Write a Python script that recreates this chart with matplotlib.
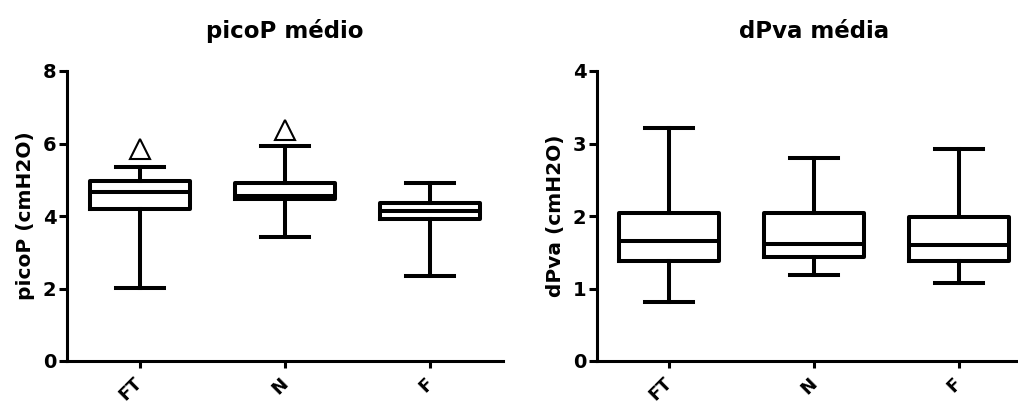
import matplotlib
matplotlib.use("Agg")
import matplotlib.pyplot as plt

plt.rcParams['font.family'] = ['DejaVu Sans']
plt.rcParams['font.weight'] = 'bold'

groups = ["FT", "N", "F"]

# picoP médio (cmH2O): whisker low, q1, median, q3, whisker high, outliers
pico_lo = [2.01, 3.43, 2.34]
pico_q1 = [4.18, 4.47, 3.93]
pico_med = [4.67, 4.56, 4.15]
pico_q3 = [4.97, 4.90, 4.37]
pico_hi = [5.34, 5.93, 4.91]
pico_out = [[5.85], [6.38], []]

# dPva média (cmH2O)
dpva_lo = [0.81, 1.18, 1.08]
dpva_q1 = [1.38, 1.44, 1.38]
dpva_med = [1.66, 1.62, 1.60]
dpva_q3 = [2.04, 2.04, 1.99]
dpva_hi = [3.21, 2.80, 2.93]
dpva_out = [[], [], []]


def make_stats(lo, q1, med, q3, hi, out):
    stats = []
    for i, g in enumerate(groups):
        stats.append(dict(label=g, whislo=lo[i], q1=q1[i], med=med[i],
                          q3=q3[i], whishi=hi[i], fliers=out[i]))
    return stats


def draw(ax, stats, title, ylabel, ymax, yticks):
    lw = 2.9
    ax.bxp(stats, positions=range(len(groups)), widths=0.69,
           capwidths=0.33,
           boxprops=dict(color="black", linewidth=lw),
           medianprops=dict(color="black", linewidth=lw),
           whiskerprops=dict(color="black", linewidth=lw),
           capprops=dict(color="black", linewidth=lw),
           flierprops=dict(marker="^", markersize=14, markerfacecolor="white",
                           markeredgecolor="black", markeredgewidth=1.5))
    ax.set_xlim(-0.5, 2.5)
    ax.set_ylim(0, ymax)
    ax.set_yticks(yticks)
    ax.set_xticks(range(len(groups)))
    ax.set_xticklabels(groups, rotation=45, ha="right", va="center",
                       rotation_mode="anchor", fontsize=13, fontweight="bold")
    for lab in ax.get_yticklabels():
        lab.set_fontsize(14)
        lab.set_fontweight("bold")
    ax.spines["top"].set_visible(False)
    ax.spines["right"].set_visible(False)
    ax.spines["left"].set_linewidth(2.2)
    ax.spines["bottom"].set_linewidth(2.2)
    ax.tick_params(axis="y", direction="out", length=6, width=2.2, pad=1.5)
    ax.tick_params(axis="x", direction="out", length=5, width=2.2, pad=9)
    ax.set_title(title, fontsize=16.5, fontweight="bold", pad=24)
    ax.set_ylabel(ylabel, fontsize=14.5, fontweight="bold", labelpad=6)


fig = plt.figure(figsize=(10.18, 4.03), dpi=100)
ax1 = fig.add_axes([67 / 1018, 42 / 403, 436 / 1018, 290 / 403])
ax2 = fig.add_axes([597 / 1018, 42 / 403, 434 / 1018, 290 / 403])

draw(ax1, make_stats(pico_lo, pico_q1, pico_med, pico_q3, pico_hi, pico_out),
     "picoP médio", "picoP (cmH2O)", 8, [0, 2, 4, 6, 8])
draw(ax2, make_stats(dpva_lo, dpva_q1, dpva_med, dpva_q3, dpva_hi, dpva_out),
     "dPva média", "dPva (cmH2O)", 4, [0, 1, 2, 3, 4])

fig.savefig("out.png", dpi=100)
